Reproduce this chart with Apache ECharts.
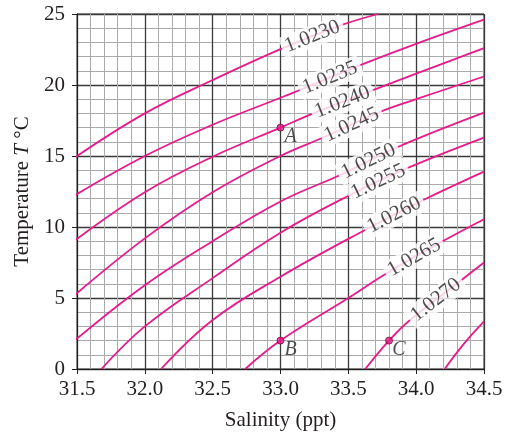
<!DOCTYPE html>
<html>
<head>
<meta charset="utf-8">
<script src="https://cdn.jsdelivr.net/npm/echarts@6/dist/echarts.min.js"></script>
<style>html,body{margin:0;padding:0;background:#fff}#c{width:505px;height:432px}</style>
</head>
<body>
<div id="c"></div>
<script>
// ---- data ----
const salinityTicks = ['31.5', '32.0', '32.5', '33.0', '33.5', '34.0', '34.5'];
const temperatureTicks = ['0', '5', '10', '15', '20', '25'];
const contourLevels = ['1.0230', '1.0235', '1.0240', '1.0245', '1.0250', '1.0255', '1.0260', '1.0265', '1.0270', '1.0275'];

// each contour: [salinity (ppt), temperature (°C)]
const rho10230 = [[31.47, 14.8], [32.0, 18.0], [32.5, 20.35], [33.018, 22.6], [33.453, 24.23], [33.72, 25.0]];
const rho10235 = [[31.47, 12.15], [32.0, 15.0], [32.5, 17.2], [33.0, 19.1], [33.156, 19.7], [33.574, 21.35], [34.0, 22.9], [34.5, 24.6]];
const rho10240 = [[31.47, 8.95], [32.0, 12.45], [32.5, 14.95], [33.0, 17.0], [33.242, 18.0], [33.672, 19.6], [34.0, 20.8], [34.5, 22.6]];
const rho10245 = [[31.47, 5.1], [32.0, 9.2], [32.5, 12.45], [33.0, 15.0], [33.316, 16.3], [33.733, 18.1], [34.0, 19.0], [34.5, 20.6]];
const rho10250 = [[31.47, 1.9], [32.0, 5.9], [32.5, 9.0], [33.0, 11.8], [33.44, 13.66], [33.857, 15.6], [34.5, 18.05]];
const rho10255 = [[31.68, 0.0], [32.0, 3.0], [32.5, 6.4], [33.0, 9.6], [33.512, 12.25], [33.93, 14.13], [34.5, 16.3]];
const rho10260 = [[32.12, 0.0], [32.5, 3.45], [33.0, 6.5], [33.623, 9.79], [34.053, 11.9], [34.5, 13.9]];
const rho10265 = [[32.74, 0.0], [33.0, 2.0], [33.5, 5.0], [33.783, 6.75], [34.188, 8.96], [34.5, 10.55]];
const rho10270 = [[33.625, 0.0], [33.8, 2.0], [33.955, 3.45], [34.335, 6.27], [34.5, 7.5]];
const rho10275 = [[34.21, 0.0], [34.35, 1.75], [34.5, 3.35]];

// index of the point just before the label gap of each contour (null = no label)
const labelGaps = [3, 4, 4, 4, 4, 4, 3, 3, 2, null];

const pointNames = ['A', 'B', 'C'];
const pointSalinity = [33.0, 33.0, 33.8];
const pointTemperature = [17.0, 2.0, 2.0];

// ---- chart ----
const contours = [rho10230, rho10235, rho10240, rho10245, rho10250, rho10255, rho10260, rho10265, rho10270, rho10275];
const FONT = '"Liberation Serif", "Times New Roman", serif';
const INK = '#231f20';
const PINK = '#e8198b';

const chart = echarts.init(document.getElementById('c'), null, {renderer: 'canvas'});

function tickText(list, v) {
  const t = list.find(s => Math.abs(parseFloat(s) - v) < 1e-6);
  return t === undefined ? '' : t;
}

const lineSeries = contours.map((pts, i) => ({
  type: 'line',
  name: contourLevels[i],
  data: pts,
  smooth: 0.4,
  showSymbol: false,
  symbol: 'none',
  clip: false,
  silent: true,
  animation: false,
  z: 2,
  lineStyle: {color: PINK, width: 1.8}
}));

const option = {
  animation: false,
  backgroundColor: '#fff',
  grid: {left: 77, top: 14, width: 407, height: 355, containLabel: false, outerBoundsMode: 'none',
    show: true, borderColor: '#333', borderWidth: 1, backgroundColor: 'transparent'},
  xAxis: {
    type: 'value', min: 31.5, max: 34.5, interval: 0.5,
    name: 'Salinity (ppt)', nameLocation: 'middle', nameGap: 41,
    nameTextStyle: {fontFamily: FONT, fontSize: 21, color: INK},
    axisLine: {show: true, onZero: false, lineStyle: {color: INK, width: 1}},
    axisTick: {show: true, inside: false, length: 5, lineStyle: {color: INK}},
    axisLabel: {fontFamily: FONT, fontSize: 21, color: INK, margin: 10,
      formatter: v => tickText(salinityTicks, v)},
    splitLine: {show: true, lineStyle: {color: '#3a3a3a', width: 1.3}},
    minorTick: {show: false, splitNumber: 5},
    minorSplitLine: {show: true, lineStyle: {color: '#aaaaaa', width: 1}}
  },
  yAxis: {
    type: 'value', min: 0, max: 25, interval: 5,
    name: '{r|Temperature }{i|T}{r| °C}', nameLocation: 'middle', nameGap: 41,
    nameTextStyle: {fontFamily: FONT, fontSize: 21, color: INK,
      rich: {r: {fontFamily: FONT, fontSize: 21, color: INK},
             i: {fontFamily: FONT, fontSize: 21, color: INK, fontStyle: 'italic'}}},
    axisLine: {show: true, onZero: false, lineStyle: {color: INK, width: 1}},
    axisTick: {show: true, inside: false, length: 5, lineStyle: {color: INK}},
    axisLabel: {fontFamily: FONT, fontSize: 21, color: INK, margin: 12,
      formatter: v => tickText(temperatureTicks, v)},
    splitLine: {show: true, lineStyle: {color: '#3a3a3a', width: 1.3}},
    minorTick: {show: false, splitNumber: 5},
    minorSplitLine: {show: true, lineStyle: {color: '#aaaaaa', width: 1}}
  },
  series: lineSeries
};
chart.setOption(option);

// contour labels centred in each gap, rotated along the curve
const labelItems = [];
contours.forEach((pts, i) => {
  const g = labelGaps[i];
  if (g === null) return;
  const a = pts[g], b = pts[g + 1];
  const pa = chart.convertToPixel({gridIndex: 0}, a);
  const pb = chart.convertToPixel({gridIndex: 0}, b);
  const ang = Math.atan2(pa[1] - pb[1], pb[0] - pa[0]) * 180 / Math.PI;
  labelItems.push({
    value: [(a[0] + b[0]) / 2, (a[1] + b[1]) / 2],
    label: {rotate: ang, formatter: contourLevels[i]}
  });
});

const pointItems = pointNames.map((n, i) => ({name: n, value: [pointSalinity[i], pointTemperature[i]]}));

chart.setOption({
  series: lineSeries.concat([
    {
      type: 'scatter', name: 'labels', data: labelItems, symbolSize: 0, silent: true, z: 5,
      label: {show: true, position: 'inside', fontFamily: FONT, fontSize: 21, color: INK,
        backgroundColor: '#fff', padding: [1, 4], lineHeight: 20}
    },
    {
      type: 'scatter', name: 'points', data: pointItems, symbol: 'circle', symbolSize: 7, silent: true, z: 6,
      itemStyle: {color: PINK, borderColor: '#6b0a3c', borderWidth: 1},
      label: {show: true, position: 'inside', offset: [10, 9], formatter: p => p.name,
        fontFamily: FONT, fontSize: 20, fontStyle: 'italic', color: INK}
    }
  ])
});
</script>
</body>
</html>
